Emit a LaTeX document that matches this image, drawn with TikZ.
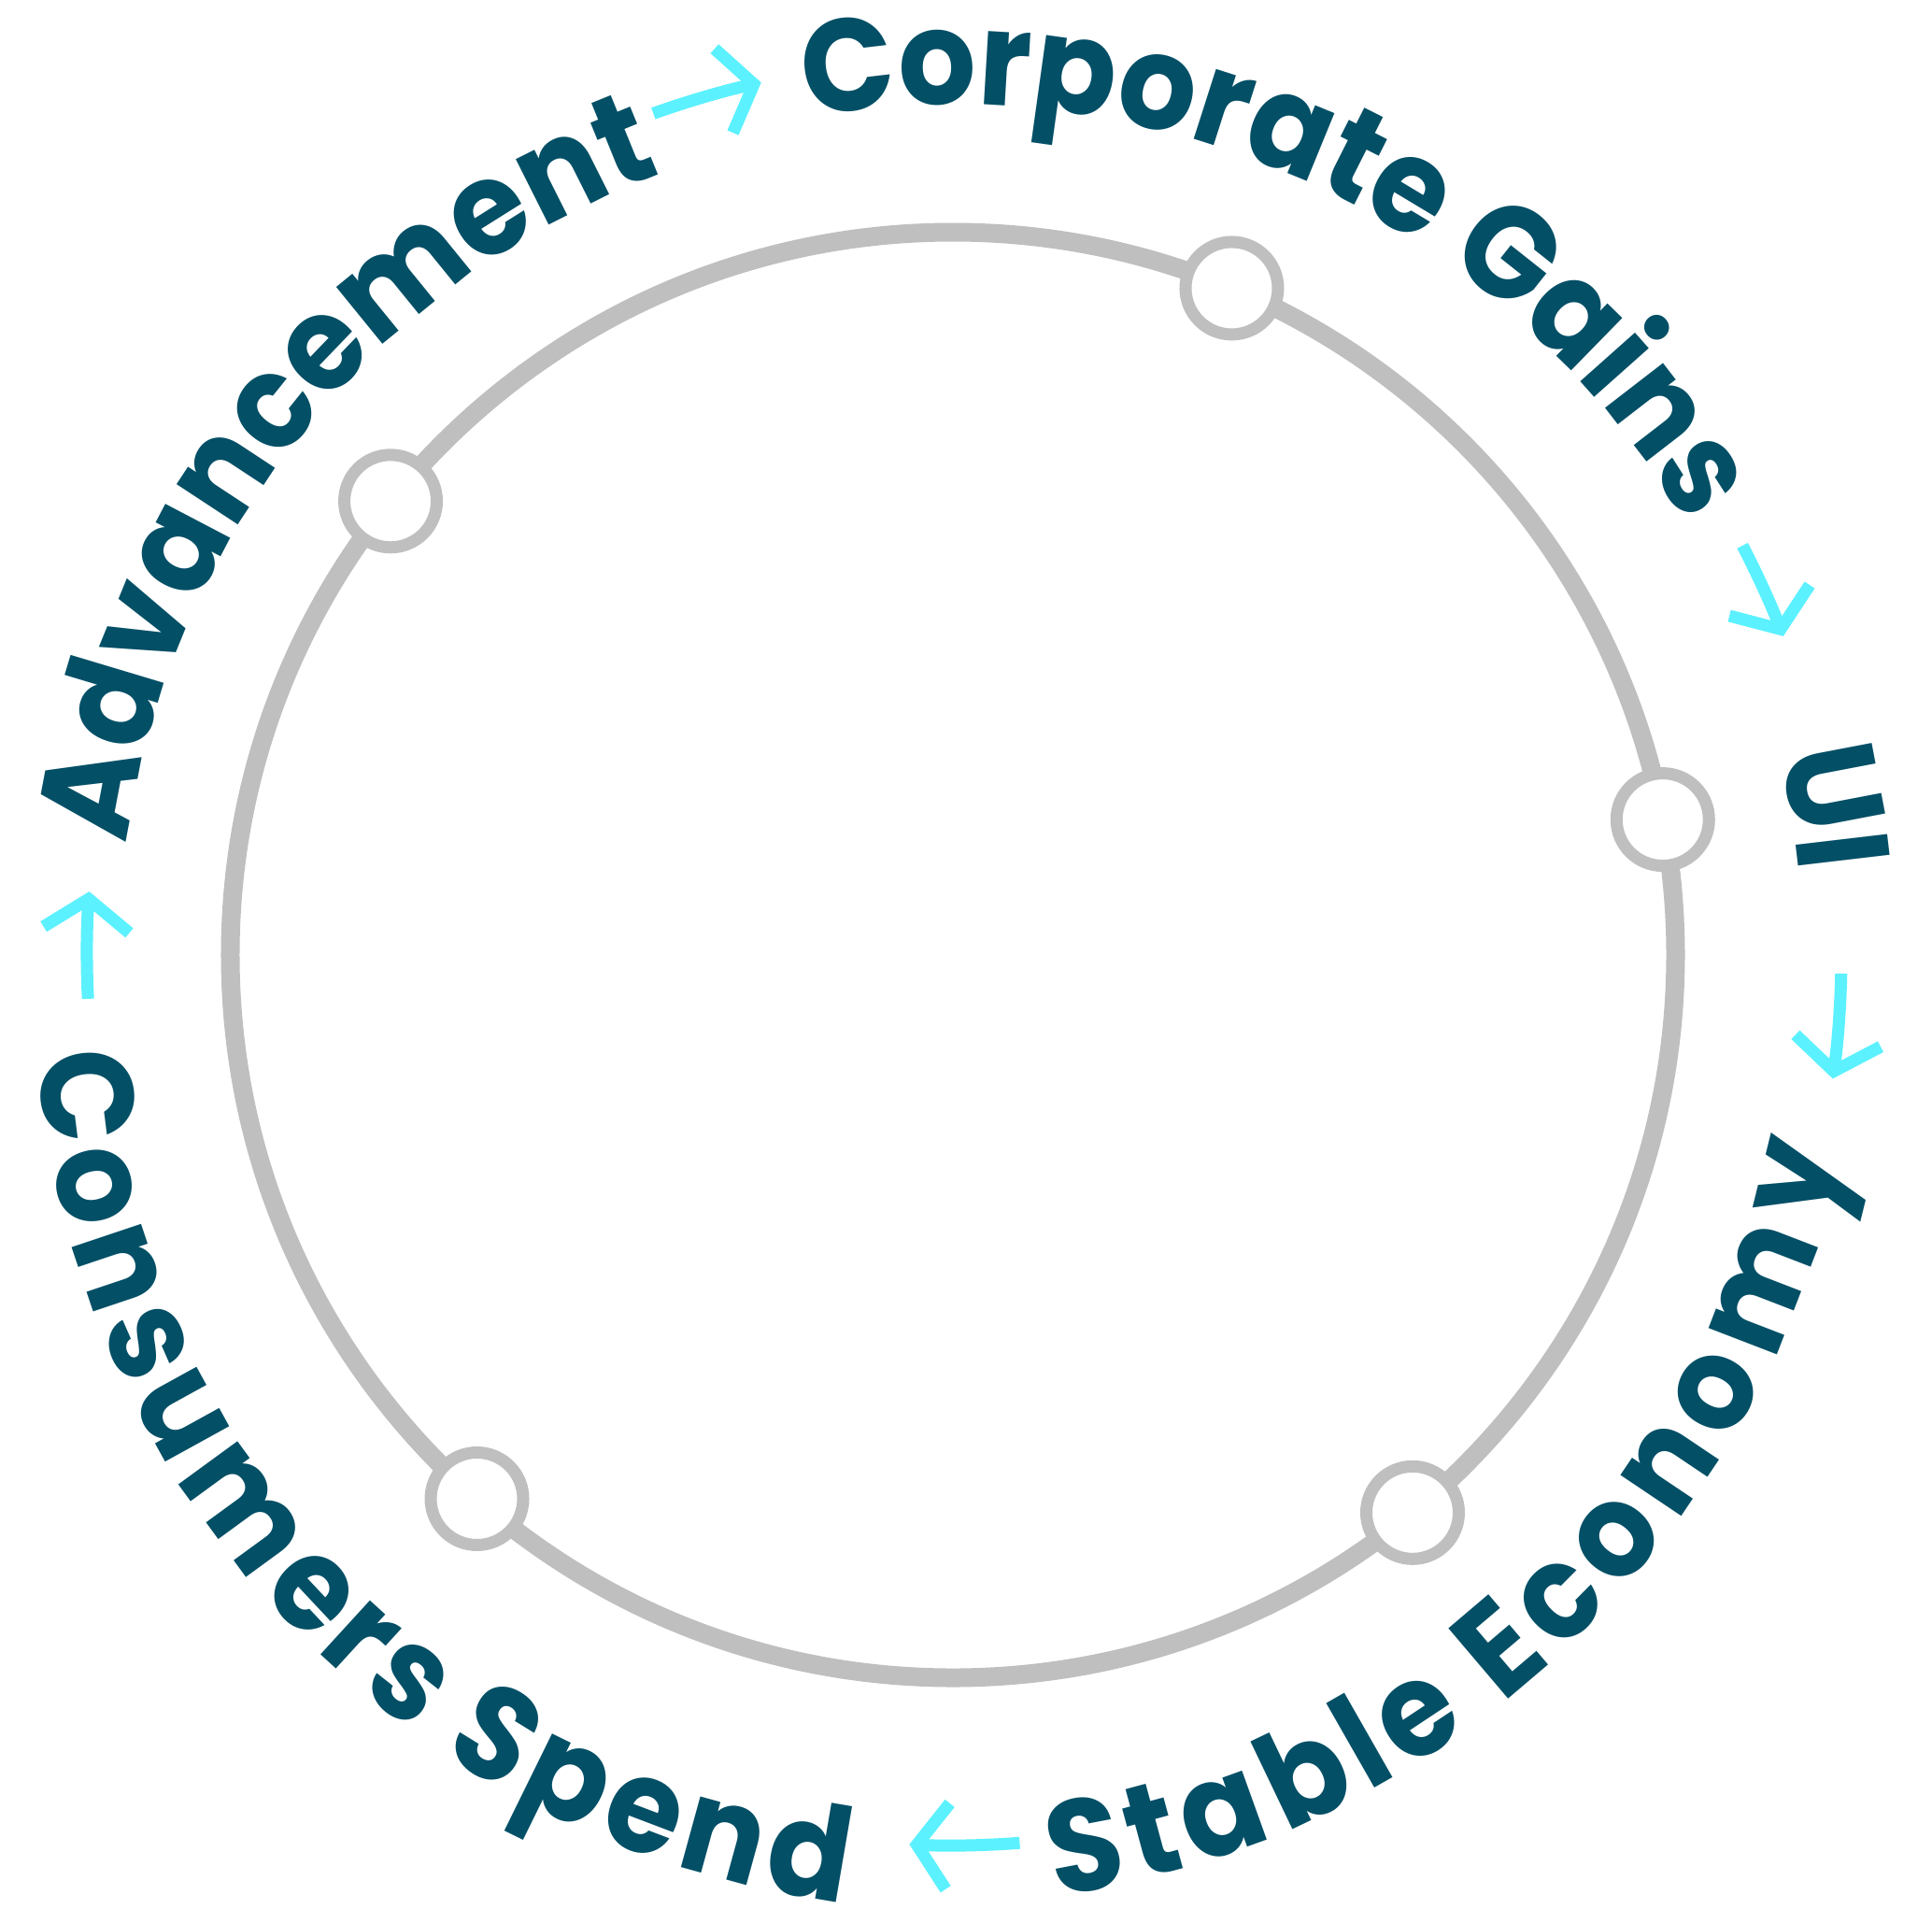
\documentclass[tikz,border=0pt]{standalone}
\usepackage{fontspec}
\setmainfont{Poppins}[FakeStretch=0.93]
\usetikzlibrary{arrows.meta,decorations.text}
\definecolor{ink}{HTML}{034F66}
\definecolor{flowcyan}{HTML}{5BF1FF}
\definecolor{ringgray}{HTML}{BFBFBF}
\newcommand{\lblfont}{\fontsize{40}{48}\selectfont\bfseries}

\begin{document}
\begin{tikzpicture}[
    ring/.style={draw=ringgray, line width=0.2cm},
    stage/.style={circle, draw=ringgray, fill=white, line width=0.13cm,
                  minimum size=0.99cm, inner sep=0pt},
    flow/.style={draw=flowcyan, line width=0.13cm,
                 -{Straight Barb[length=0.33cm, width=0.92cm]}},
    arclabel/.style={decorate, decoration={text along path, text align=center,
                     text color=ink, text={|\lblfont|#1}}}
  ]
  \useasboundingbox (-10.20,-10.35) rectangle (10.48,10.22);

  % the cycle ring and its stages
  \draw[ring] (0,0) circle[radius=7.735];
  \node[stage] (gains)   at (67.3:7.735)  {};
  \node[stage] (ui)      at (10.8:7.735)  {};
  \node[stage] (economy) at (-50.5:7.735) {};
  \node[stage] (spend)   at (-131.2:7.735) {};
  \node[stage] (advance) at (141.1:7.735) {};

  % labels (clockwise on top, counter-clockwise at the bottom)
  \path[arclabel=Advancement] (191.4:8.92) arc[start angle=191.4, end angle=91.4, radius=8.92];
  \path[arclabel=Corporate Gains] (115.1:9.10) arc[start angle=115.1, end angle=15.1, radius=9.10];
  \path[arclabel=UI] (59.6:9.10) arc[start angle=59.6, end angle=-40.4, radius=9.10];
  % bottom ones: path drawn further in, letters pushed out to the baseline
  \path[arclabel=Stable Economy, decoration={raise=-1.33cm}, shift={(-0.40,-0.07)}]
    (-96.5:8.79) arc[start angle=-96.5, end angle=3.5, radius=8.79];
  \path[arclabel=Consumers Spend, decoration={raise=-0.95cm}, shift={(0.055,-0.34)}]
    (173.55:8.93) arc[start angle=173.55, end angle=273.55, radius=8.93];

  % flow arrows
  \coordinate (f1) at (109.6:9.56);
  \coordinate (f2) at (27.4:9.52);
  \coordinate (f3) at (-1.2:9.51);
  \coordinate (f4) at (-85.7:9.53);
  \coordinate (f5) at (182.9:9.27);
  \draw[flow] (f1) arc[start angle=109.6, end angle=102.4, radius=9.56];
  \draw[flow] (f2) arc[start angle=27.4, end angle=21.0, radius=9.52];
  \draw[flow] (f3) arc[start angle=-1.2, end angle=-8.0, radius=9.51];
  \draw[flow] (f4) arc[start angle=-85.7, end angle=-92.8, radius=9.53];
  \draw[flow] (f5) arc[start angle=182.9, end angle=175.8, radius=9.27];
\end{tikzpicture}
\end{document}
